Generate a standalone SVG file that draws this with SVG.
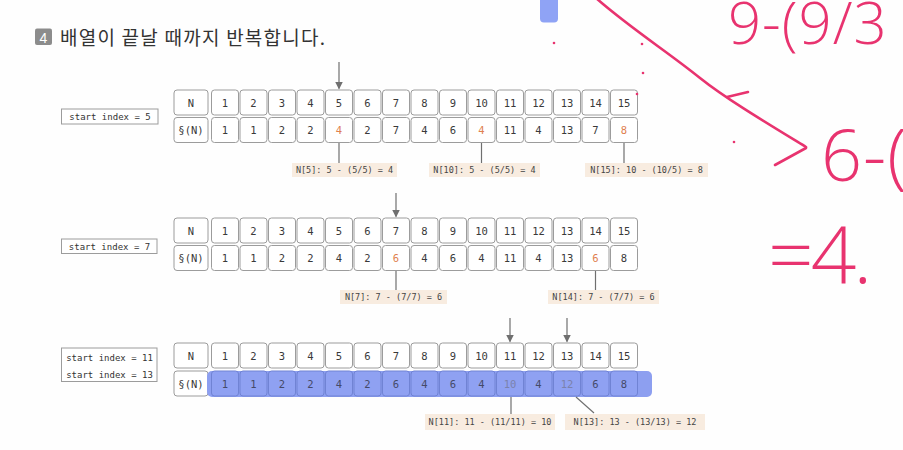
<svg xmlns="http://www.w3.org/2000/svg" xmlns:xlink="http://www.w3.org/1999/xlink" width="903" height="450" viewBox="0 0 903 450">
<style>
.cell{fill:#fff;stroke:#9c9c9c;stroke-width:1}
.hcell{fill:#8fa1f2;stroke:#7083d4;stroke-width:1}
.t{font-family:"DejaVu Sans Mono","Liberation Mono",monospace;font-size:10.5px;fill:#3a3a3a;text-anchor:middle}
.o{fill:#e0804e}
.g{fill:#7b82ac}
.b{fill:#454a68}
.lbl{fill:#f8ece0}
.lt{font-family:"DejaVu Sans Mono","Liberation Mono",monospace;font-size:8.5px;fill:#444;text-anchor:middle}
.sb{fill:#fff;stroke:#9c9c9c;stroke-width:1}
.st{font-family:"DejaVu Sans Mono","Liberation Mono",monospace;font-size:9px;fill:#333;text-anchor:middle}
.ln{stroke:#6f6f6f;stroke-width:1.2;fill:none}
.hw{font-family:"Open Sans","Liberation Sans",sans-serif;font-weight:300;fill:#e8336f}
.pk{stroke:#e8336f;stroke-width:2.6;fill:none;stroke-linecap:round;stroke-linejoin:round}
</style>
<defs>
<marker id="ah" viewBox="0 0 8 8" refX="7" refY="4" markerWidth="8" markerHeight="8" markerUnits="userSpaceOnUse" orient="auto">
<path d="M0,0 L8,4 L0,8 Z" fill="#6f6f6f"/>
</marker>
<g id="row">
<rect class="cell" x="174" y="0" width="34" height="25" rx="3"/>
<rect class="cell" x="211.5" y="0" width="27" height="25" rx="3"/>
<rect class="cell" x="240" y="0" width="27" height="25" rx="3"/>
<rect class="cell" x="268.5" y="0" width="27" height="25" rx="3"/>
<rect class="cell" x="297" y="0" width="27" height="25" rx="3"/>
<rect class="cell" x="325.5" y="0" width="27" height="25" rx="3"/>
<rect class="cell" x="354" y="0" width="27" height="25" rx="3"/>
<rect class="cell" x="382.5" y="0" width="27" height="25" rx="3"/>
<rect class="cell" x="411" y="0" width="27" height="25" rx="3"/>
<rect class="cell" x="439.5" y="0" width="27" height="25" rx="3"/>
<rect class="cell" x="468" y="0" width="27" height="25" rx="3"/>
<rect class="cell" x="496.5" y="0" width="27" height="25" rx="3"/>
<rect class="cell" x="525" y="0" width="27" height="25" rx="3"/>
<rect class="cell" x="553.5" y="0" width="27" height="25" rx="3"/>
<rect class="cell" x="582" y="0" width="27" height="25" rx="3"/>
<rect class="cell" x="610.5" y="0" width="27" height="25" rx="3"/>
</g>
<g id="hrow">
<rect class="hcell" x="211.5" y="0" width="27" height="25" rx="3"/>
<rect class="hcell" x="240" y="0" width="27" height="25" rx="3"/>
<rect class="hcell" x="268.5" y="0" width="27" height="25" rx="3"/>
<rect class="hcell" x="297" y="0" width="27" height="25" rx="3"/>
<rect class="hcell" x="325.5" y="0" width="27" height="25" rx="3"/>
<rect class="hcell" x="354" y="0" width="27" height="25" rx="3"/>
<rect class="hcell" x="382.5" y="0" width="27" height="25" rx="3"/>
<rect class="hcell" x="411" y="0" width="27" height="25" rx="3"/>
<rect class="hcell" x="439.5" y="0" width="27" height="25" rx="3"/>
<rect class="hcell" x="468" y="0" width="27" height="25" rx="3"/>
<rect class="hcell" x="496.5" y="0" width="27" height="25" rx="3"/>
<rect class="hcell" x="525" y="0" width="27" height="25" rx="3"/>
<rect class="hcell" x="553.5" y="0" width="27" height="25" rx="3"/>
<rect class="hcell" x="582" y="0" width="27" height="25" rx="3"/>
<rect class="hcell" x="610.5" y="0" width="27" height="25" rx="3"/>
</g>
</defs>
<rect x="0" y="0" width="903" height="450" fill="#fefefe"/>
<rect x="540" y="-6" width="18" height="28.5" rx="4" fill="#8fa3f5"/>

<g id="title">
<rect x="35" y="28.5" width="17" height="16.5" rx="2" fill="#8c8c8c"/>
<text x="43.5" y="42.5" font-family="Liberation Sans,sans-serif" font-size="14" fill="#fff" text-anchor="middle">4</text>
<text x="60" y="45" font-family="'Noto Sans CJK KR',sans-serif" font-size="19" fill="#333" textLength="265" lengthAdjust="spacing">배열이 끝날 때까지 반복합니다.</text>
</g>

<g id="start1">
<rect class="sb" x="61.5" y="109" width="96.5" height="15"/>
<text class="st" x="110" y="120">start index = 5</text>
</g>
<g id="table1">
<use xlink:href="#row" y="90"/>
<use xlink:href="#row" y="117.5"/>
<text class="t" x="191" y="106.5">N</text>
<text class="t" x="225" y="106.5">1</text><text class="t" x="253.5" y="106.5">2</text><text class="t" x="282" y="106.5">3</text><text class="t" x="310.5" y="106.5">4</text><text class="t" x="339" y="106.5">5</text><text class="t" x="367.5" y="106.5">6</text><text class="t" x="396" y="106.5">7</text><text class="t" x="424.5" y="106.5">8</text><text class="t" x="453" y="106.5">9</text><text class="t" x="481.5" y="106.5">10</text><text class="t" x="510" y="106.5">11</text><text class="t" x="538.5" y="106.5">12</text><text class="t" x="567" y="106.5">13</text><text class="t" x="595.5" y="106.5">14</text><text class="t" x="624" y="106.5">15</text>
<text class="t" x="191" y="134">§(N)</text>
<text class="t" x="225" y="134">1</text><text class="t" x="253.5" y="134">1</text><text class="t" x="282" y="134">2</text><text class="t" x="310.5" y="134">2</text><text class="t o" x="339" y="134">4</text><text class="t" x="367.5" y="134">2</text><text class="t" x="396" y="134">7</text><text class="t" x="424.5" y="134">4</text><text class="t" x="453" y="134">6</text><text class="t o" x="481.5" y="134">4</text><text class="t" x="510" y="134">11</text><text class="t" x="538.5" y="134">4</text><text class="t" x="567" y="134">13</text><text class="t" x="595.5" y="134">7</text><text class="t o" x="624" y="134">8</text>
</g>
<g id="label-n5"><rect class="lbl" x="292" y="163" width="105" height="14"/><text class="lt" x="344.5" y="173">N[5]: 5 - (5/5) = 4</text></g>
<g id="label-n10"><rect class="lbl" x="429" y="163" width="111" height="14"/><text class="lt" x="484.5" y="173">N[10]: 5 - (5/5) = 4</text></g>
<g id="label-n15"><rect class="lbl" x="585" y="163" width="123" height="14"/><text class="lt" x="646.5" y="173">N[15]: 10 - (10/5) = 8</text></g>

<g id="start2">
<rect class="sb" x="61.5" y="239" width="95.5" height="14.5"/>
<text class="st" x="109.5" y="249.5">start index = 7</text>
</g>
<g id="table2">
<use xlink:href="#row" y="218"/>
<use xlink:href="#row" y="245.5"/>
<text class="t" x="191" y="234.5">N</text>
<text class="t" x="225" y="234.5">1</text><text class="t" x="253.5" y="234.5">2</text><text class="t" x="282" y="234.5">3</text><text class="t" x="310.5" y="234.5">4</text><text class="t" x="339" y="234.5">5</text><text class="t" x="367.5" y="234.5">6</text><text class="t" x="396" y="234.5">7</text><text class="t" x="424.5" y="234.5">8</text><text class="t" x="453" y="234.5">9</text><text class="t" x="481.5" y="234.5">10</text><text class="t" x="510" y="234.5">11</text><text class="t" x="538.5" y="234.5">12</text><text class="t" x="567" y="234.5">13</text><text class="t" x="595.5" y="234.5">14</text><text class="t" x="624" y="234.5">15</text>
<text class="t" x="191" y="262">§(N)</text>
<text class="t" x="225" y="262">1</text><text class="t" x="253.5" y="262">1</text><text class="t" x="282" y="262">2</text><text class="t" x="310.5" y="262">2</text><text class="t" x="339" y="262">4</text><text class="t" x="367.5" y="262">2</text><text class="t o" x="396" y="262">6</text><text class="t" x="424.5" y="262">4</text><text class="t" x="453" y="262">6</text><text class="t" x="481.5" y="262">4</text><text class="t" x="510" y="262">11</text><text class="t" x="538.5" y="262">4</text><text class="t" x="567" y="262">13</text><text class="t o" x="595.5" y="262">6</text><text class="t" x="624" y="262">8</text>
</g>
<g id="label-n7"><rect class="lbl" x="340" y="290" width="107" height="14"/><text class="lt" x="393.5" y="300">N[7]: 7 - (7/7) = 6</text></g>
<g id="label-n14"><rect class="lbl" x="548" y="290" width="111" height="14"/><text class="lt" x="603.5" y="300">N[14]: 7 - (7/7) = 6</text></g>

<g id="start3">
<rect class="sb" x="61.5" y="348" width="95.5" height="33.5"/>
<text class="st" x="109.5" y="361">start index = 11</text>
<text class="st" x="109.5" y="377.5">start index = 13</text>
</g>
<g id="table3">
<use xlink:href="#row" y="343"/>
<rect class="cell" x="174" y="371" width="34" height="25" rx="3"/>
<rect x="207" y="371" width="445" height="26" rx="5" fill="#8d9ff0"/>
<use xlink:href="#hrow" y="371"/>
<text class="t" x="191" y="359.5">N</text>
<text class="t" x="225" y="359.5">1</text><text class="t" x="253.5" y="359.5">2</text><text class="t" x="282" y="359.5">3</text><text class="t" x="310.5" y="359.5">4</text><text class="t" x="339" y="359.5">5</text><text class="t" x="367.5" y="359.5">6</text><text class="t" x="396" y="359.5">7</text><text class="t" x="424.5" y="359.5">8</text><text class="t" x="453" y="359.5">9</text><text class="t" x="481.5" y="359.5">10</text><text class="t" x="510" y="359.5">11</text><text class="t" x="538.5" y="359.5">12</text><text class="t" x="567" y="359.5">13</text><text class="t" x="595.5" y="359.5">14</text><text class="t" x="624" y="359.5">15</text>
<text class="t" x="191" y="387.5">§(N)</text>
<text class="t b" x="225" y="387.5">1</text><text class="t b" x="253.5" y="387.5">1</text><text class="t b" x="282" y="387.5">2</text><text class="t b" x="310.5" y="387.5">2</text><text class="t b" x="339" y="387.5">4</text><text class="t b" x="367.5" y="387.5">2</text><text class="t b" x="396" y="387.5">6</text><text class="t b" x="424.5" y="387.5">4</text><text class="t b" x="453" y="387.5">6</text><text class="t b" x="481.5" y="387.5">4</text><text class="t g" x="510" y="387.5">10</text><text class="t b" x="538.5" y="387.5">4</text><text class="t g" x="567" y="387.5">12</text><text class="t b" x="595.5" y="387.5">6</text><text class="t b" x="624" y="387.5">8</text>
</g>
<g id="label-n11"><rect class="lbl" x="425" y="414" width="130" height="16"/><text class="lt" x="490" y="425">N[11]: 11 - (11/11) = 10</text></g>
<g id="label-n13"><rect class="lbl" x="565" y="414" width="140" height="16"/><text class="lt" x="635" y="425">N[13]: 13 - (13/13) = 12</text></g>

<g id="connectors">
<line class="ln" x1="339" y1="62" x2="339" y2="88.5" marker-end="url(#ah)"/>
<line class="ln" x1="396" y1="193" x2="396" y2="216.5" marker-end="url(#ah)"/>
<line class="ln" x1="510" y1="318" x2="510" y2="341.5" marker-end="url(#ah)"/>
<line class="ln" x1="567" y1="318" x2="567" y2="341.5" marker-end="url(#ah)"/>
<line class="ln" x1="339" y1="143" x2="339" y2="163"/>
<line class="ln" x1="481.5" y1="143" x2="481.5" y2="163"/>
<line class="ln" x1="624" y1="143" x2="624" y2="163"/>
<line class="ln" x1="396" y1="271" x2="396" y2="290"/>
<line class="ln" x1="595.5" y1="271" x2="595.5" y2="290"/>
<line class="ln" x1="511" y1="397" x2="511" y2="414"/>
<line class="ln" x1="576" y1="397" x2="594" y2="413"/>
</g>

<g id="handwriting">
<path class="pk" d="M596,-2 C630,28 668,52 700,78 C725,98 765,122 806,147"/>
<path class="pk" d="M775,165 L806,148"/>
<path class="pk" d="M727,97 L748,92"/>
<circle cx="554" cy="43" r="1.3" fill="#e8336f"/>
<circle cx="642" cy="44" r="1.3" fill="#e8336f"/>
<circle cx="643" cy="73" r="1.3" fill="#e8336f"/>
<circle cx="637" cy="94" r="1.3" fill="#e8336f"/>
<circle cx="734" cy="142" r="1.3" fill="#e8336f"/>
<text class="hw" x="728" y="44" font-size="58" letter-spacing="1">9-(9/3</text>
<text class="hw" x="821" y="181" font-size="72" letter-spacing="1">6-(</text>
<text class="hw" x="768" y="283" font-size="80" letter-spacing="-3">=4.</text>
</g>
</svg>
